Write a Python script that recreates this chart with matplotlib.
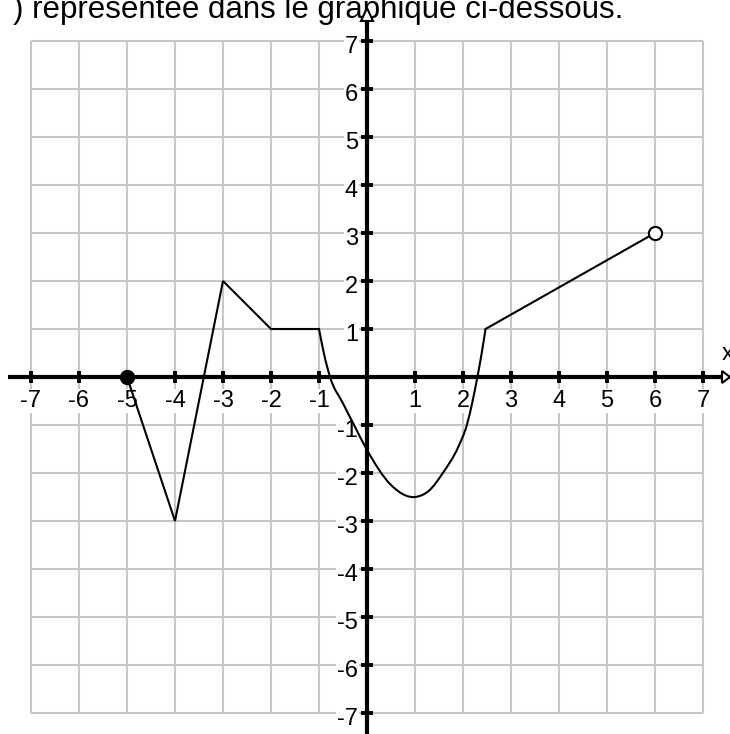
import numpy as np
import matplotlib
matplotlib.use("Agg")
import matplotlib.pyplot as plt
from matplotlib.path import Path
from matplotlib.patches import PathPatch, Polygon

plt.rcParams['font.family'] = ['Liberation Sans', 'DejaVu Sans']

# --- data -------------------------------------------------------------
tick_values = [-7, -6, -5, -4, -3, -2, -1, 1, 2, 3, 4, 5, 6, 7]
tick_labels = ["-7", "-6", "-5", "-4", "-3", "-2", "-1",
               "1", "2", "3", "4", "5", "6", "7"]
grid_values = list(range(-7, 8))

# broken-line part of the graph
seg_x = [-5, -4, -3, -2, -1]
seg_y = [0, -3, 2, 1, 1]

# smooth part of the graph
curve_x = [-1, -0.9, -0.77, -0.5, -0.27, 0, 0.5, 1, 1.3, 1.58, 1.9,
           2.08, 2.2, 2.3, 2.39, 2.47]
curve_y = [1, 0.5, 0, -0.55, -1, -1.52, -2.25, -2.5, -2.36, -2,
           -1.46, -1, -0.5, 0, 0.5, 1]

# final straight piece
last_x = [2.47, 6]
last_y = [1, 3]

closed_point = (-5, 0)
open_point = (6, 3)

title = ") représentée dans le graphique ci-dessous."

# --- figure -----------------------------------------------------------
W, H = 730, 734
U = 48.0            # pixels per unit
X0, Y0 = 367, 377   # pixel position of the origin

fig = plt.figure(figsize=(W / 100, H / 100), dpi=100)
ax = fig.add_axes([0, 0, 1, 1])
ax.set_xlim(-X0 / U, (W - X0) / U)
ax.set_ylim(-(H - Y0) / U, Y0 / U)
ax.axis('off')

px = 1 / U  # one pixel in data units

# grid
grid_col = '#c6c6c6'
ax.vlines(grid_values, -7, 7, color=grid_col, lw=1.5, zorder=1)
ax.hlines(grid_values, -7, 7, color=grid_col, lw=1.5, zorder=1)

# title line (partly cut at the top)
ax.text((623 - X0) / U, (Y0 - 18) / U, title, fontsize=22.5,
        ha='right', va='baseline', color='black', zorder=2)

# axes lines
xmin, xmax = ax.get_xlim()
ymin, ymax = ax.get_ylim()
x_arrow_base = (722 - X0) / U
y_arrow_base = (Y0 - 21) / U
ax.plot([(8 - X0) / U, x_arrow_base], [0, 0], color='black', lw=3,
        solid_capstyle='butt', zorder=4)
ax.plot([0, 0], [ymin, y_arrow_base], color='black', lw=3,
        solid_capstyle='butt', zorder=4)

# tick marks
ax.plot(tick_values, [0] * len(tick_values), ls='none', marker='|',
        ms=8, mew=2.8, color='black', zorder=4)
ax.plot([0] * len(tick_values), tick_values, ls='none', marker='_',
        ms=8, mew=2.8, color='black', zorder=4)

# tick labels
lab_kw = dict(fontsize=17, color='black', zorder=3,
              bbox=dict(fc='white', ec='none', pad=0.5))
for v, s in zip(tick_values, tick_labels):
    ax.text(v, -30 * px, s, ha='center', va='baseline', **lab_kw)
    ax.text(-9 * px, v - 12 * px, s, ha='right', va='baseline', **lab_kw)

# axis name
ax.text(x_arrow_base, 17 * px, "x", fontsize=17, ha='left', va='baseline',
        zorder=3)

# arrow heads (open triangles)
hw = 6 * px
ax.add_patch(Polygon([[x_arrow_base, hw], [x_arrow_base, -hw],
                      [xmax, 0]], closed=True, fc='white', ec='black',
                     lw=1.5, zorder=7))
ax.add_patch(Polygon([[-hw, y_arrow_base], [hw, y_arrow_base],
                      [0, (Y0 - 8) / U]], closed=True, fc='white',
                     ec='black', lw=1.5, zorder=7))

# graph: broken line
ax.plot(seg_x, seg_y, color='black', lw=1.5, zorder=5,
        solid_joinstyle='miter')

# graph: smooth piece as cubic Hermite (Bezier) segments through the points
cx = np.asarray(curve_x, float)
cy = np.asarray(curve_y, float)
h = np.diff(cx)
d = np.diff(cy) / h
m = np.empty_like(cx)
m[0], m[-1] = d[0], d[-1]
m[1:-1] = (d[:-1] * h[1:] + d[1:] * h[:-1]) / (h[:-1] + h[1:])
verts = [(cx[0], cy[0])]
codes = [Path.MOVETO]
for i in range(len(cx) - 1):
    verts += [(cx[i] + h[i] / 3, cy[i] + m[i] * h[i] / 3),
              (cx[i + 1] - h[i] / 3, cy[i + 1] - m[i + 1] * h[i] / 3),
              (cx[i + 1], cy[i + 1])]
    codes += [Path.CURVE4] * 3
ax.add_patch(PathPatch(Path(verts, codes), fc='none', ec='black', lw=1.5,
                       zorder=5))

# graph: last straight piece
ax.plot(last_x, last_y, color='black', lw=1.5, zorder=5)

# end points
ax.plot(*closed_point, marker='o', ms=10, color='black', zorder=6)
ax.plot(*open_point, marker='o', ms=9.5, mfc='white', mec='black',
        mew=1.5, zorder=6)

fig.savefig("out.png", dpi=100)
